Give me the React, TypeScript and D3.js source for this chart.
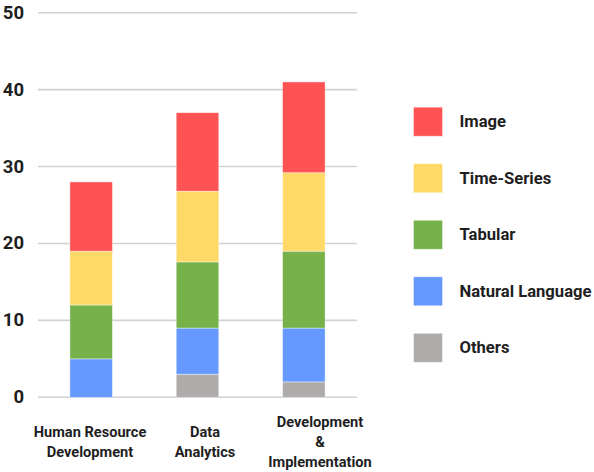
import React from "react";
import * as d3 from "d3";

const categories = ["Human Resource Development", "Data Analytics", "Development & Implementation"];
const categoryLines = [["Human Resource", "Development"], ["Data", "Analytics"], ["Development", "&", "Implementation"]];
const seriesNames = ["Others", "Natural Language", "Tabular", "Time-Series", "Image"];
const others = [0, 3, 2];
const naturalLanguage = [5, 6, 7];
const tabular = [7, 8.6, 10];
const timeSeries = [7, 9.2, 10.2];
const image = [9, 10.2, 11.8];
const yTicks = [0, 10, 20, 30, 40, 50];
const colors = ["#b0abab", "#6699ff", "#76b14a", "#ffd966", "#ff5252"];

const W = 594;
const H = 472;
const plot = { left: 38, right: 357, top: 12.7, bottom: 397.3 };
const font = "Roboto, 'Noto Sans', sans-serif";

export default function App() {
  const rows = categories.map((c, i) => ({
    category: c,
    "Others": others[i],
    "Natural Language": naturalLanguage[i],
    "Tabular": tabular[i],
    "Time-Series": timeSeries[i],
    "Image": image[i],
  }));
  const stacked = d3.stack<any>().keys(seriesNames)(rows);

  const x = d3.scaleBand<string>().domain(categories).range([plot.left, plot.right]).paddingInner(0.6).paddingOuter(0.3);
  const y = d3.scaleLinear().domain([0, 50]).range([plot.bottom, plot.top]);
  const labelX = d3.scalePoint<string>().domain(categories).range([90, 320]);
  const legendY = d3.scalePoint<string>().domain([...seriesNames].reverse()).range([121.7, 347.8]);
  const color = d3.scaleOrdinal<string, string>().domain(seriesNames).range(colors);

  return (
    <svg width={W} height={H} style={{ position: "absolute", left: 0, top: 0, background: "#fff" }} fontFamily={font}>
      {yTicks.map((t) => (
        <g key={t}>
          <line x1={plot.left} x2={plot.right} y1={y(t)} y2={y(t)} stroke="#d2d2d2" strokeWidth={1.6} />
          <text x={24} y={y(t)} textAnchor="end" dominantBaseline="central" fontSize={18.5} fontWeight={700} fill="#1e1e1e">
            {t}
          </text>
        </g>
      ))}
      {stacked.map((s) => (
        <g key={s.key} fill={color(s.key)}>
          {s.map((d, i) =>
            d[1] - d[0] > 0 ? (
              <rect
                key={i}
                x={x(categories[i])}
                width={x.bandwidth()}
                y={y(d[1])}
                height={y(d[0]) - y(d[1])}
                stroke="#ffffff"
                strokeOpacity={0.5}
                strokeWidth={0.8}
              />
            ) : null
          )}
        </g>
      ))}
      {categories.map((c, i) => {
        const lines = categoryLines[i];
        const cy = 441.7;
        return (
          <text key={c} textAnchor="middle" fontSize={14.6} fontWeight={700} fill="#1e1e1e">
            {lines.map((l, j) => (
              <tspan key={j} x={labelX(c)} y={cy + (j - (lines.length - 1) / 2) * 20} dominantBaseline="central">
                {l}
              </tspan>
            ))}
          </text>
        );
      })}
      {[...seriesNames].reverse().map((s) => (
        <g key={s} transform={`translate(0,${legendY(s)})`}>
          <rect x={413.5} y={-14.5} width={29} height={29} fill={color(s)} stroke="#ffffff" strokeOpacity={0.5} strokeWidth={0.8} />
          <text x={459.5} y={0} dominantBaseline="central" fontSize={16.6} fontWeight={700} fill="#1e1e1e">
            {s}
          </text>
        </g>
      ))}
    </svg>
  );
}
